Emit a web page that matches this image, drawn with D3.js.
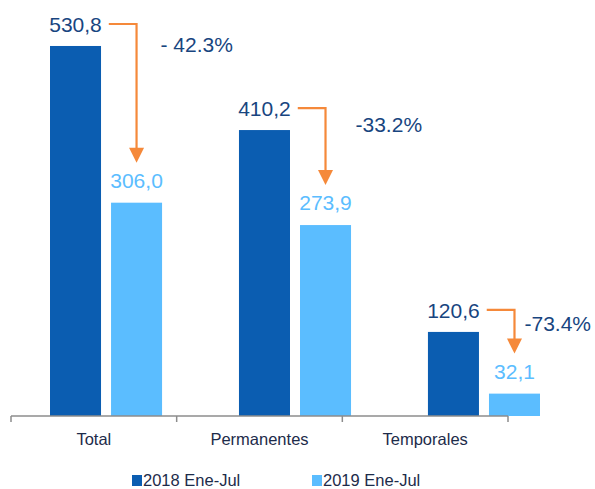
<!DOCTYPE html>
<html>
<head>
<meta charset="utf-8">
<script src="https://cdn.jsdelivr.net/npm/d3@7"></script>
<style>
  body { margin: 0; background: #fff; }
  svg { display: block; font-family: "Liberation Sans", Arial, sans-serif; }
</style>
</head>
<body>
<div id="chart"></div>
<script>
(function () {
    const categories = ["Total", "Permanentes", "Temporales"];
    const series = ["2018 Ene-Jul", "2019 Ene-Jul"];
    const values2018 = [530.8, 410.2, 120.6];
    const values2019 = [306.0, 273.9, 32.1];
    const changeLabels = ["- 42.3%", "-33.2%", "-73.4%"];
    // where each percentage sits, relative to its arrow corner
    const changeOffsets = [[24, 28], [30, 24], [10, 21]];

    const width = 595, height = 489;
    const baseline = 416;
    const dark = "#0b5db1", light = "#5bbdff", orange = "#f5893a";

    const svg = d3.select("#chart").append("svg")
        .attr("width", width)
        .attr("height", height);

    const y = d3.scaleLinear().domain([0, 600]).range([baseline, baseline - 600 * 0.6971]);

    // axis categories and the bar groups do not line up in the original
    const xAxisScale = d3.scaleBand().domain(categories).range([11, 508]);
    const xBars = d3.scaleBand().domain(categories).range([50, 540]).paddingInner(0.407);
    const xSub = d3.scaleBand().domain(series).range([0, xBars.bandwidth()]).paddingInner(0.164);

    const rows = categories.map((c, i) => ({
        cat: c, v: [values2018[i], values2019[i]], pct: changeLabels[i], off: changeOffsets[i]
    }));

    // bars
    rows.forEach(r => {
        series.forEach((s, j) => {
            svg.append("rect")
                .attr("x", xBars(r.cat) + xSub(s))
                .attr("y", y(r.v[j]))
                .attr("width", xSub.bandwidth())
                .attr("height", baseline - y(r.v[j]))
                .attr("fill", j === 0 ? dark : light);
        });
    });

    // axis
    const axis = svg.append("g").attr("transform", `translate(0,${baseline})`);
    axis.append("line").attr("x1", 11).attr("x2", 508).attr("stroke", "#8c8c8c").attr("stroke-width", 1.5);
    const tickXs = categories.map(c => xAxisScale(c)).concat([xAxisScale.range()[1]]);
    axis.selectAll("line.tick").data(tickXs).enter().append("line")
        .attr("class", "tick")
        .attr("x1", d => d).attr("x2", d => d)
        .attr("y1", 0).attr("y2", 6)
        .attr("stroke", "#8c8c8c").attr("stroke-width", 1.5);
    axis.selectAll("text").data(categories).enter().append("text")
        .attr("x", d => xAxisScale(d) + xAxisScale.bandwidth() / 2)
        .attr("y", 29)
        .attr("text-anchor", "middle")
        .style("font-size", "16.5px")
        .attr("fill", "#1d2b4a")
        .text(d => d);

    const fmt = v => v.toFixed(1).replace(".", ",");

    rows.forEach(r => {
        const xd = xBars(r.cat) + xSub(series[0]) + xSub.bandwidth() / 2;
        const xl = xBars(r.cat) + xSub(series[1]) + xSub.bandwidth() / 2;
        const yd = y(r.v[0]) - 14;
        const yl = y(r.v[1]) - 15;

        const darkLabel = svg.append("text")
            .attr("x", xd).attr("y", yd)
            .attr("text-anchor", "middle")
            .style("font-size", "21px")
            .attr("fill", "#18457f")
            .text(fmt(r.v[0]));

        svg.append("text")
            .attr("x", xl).attr("y", yl)
            .attr("text-anchor", "middle")
            .style("font-size", "21px")
            .attr("fill", light)
            .text(fmt(r.v[1]));

        // elbow arrow from the 2018 label down to the 2019 label
        const labelRight = xd + darkLabel.node().getComputedTextLength() / 2;
        const yTop = yd - 8;
        const tip = yl - 25;
        svg.append("path")
            .attr("d", `M${labelRight + 7},${yTop} H${xl} V${tip - 14}`)
            .attr("fill", "none")
            .attr("stroke", orange)
            .attr("stroke-width", 2.2);
        svg.append("path")
            .attr("d", `M${xl - 7.5},${tip - 15} L${xl + 7.5},${tip - 15} L${xl},${tip} Z`)
            .attr("fill", orange);

        svg.append("text")
            .attr("x", xl + r.off[0]).attr("y", yTop + r.off[1])
            .style("font-size", "21px")
            .attr("fill", "#18457f")
            .text(r.pct);
    });

    // legend
    const legendX = [132, 312];
    series.forEach((s, j) => {
        svg.append("rect")
            .attr("x", legendX[j]).attr("y", 475)
            .attr("width", 10).attr("height", 11)
            .attr("fill", j === 0 ? dark : light);
        svg.append("text")
            .attr("x", legendX[j] + 11).attr("y", 486)
            .style("font-size", "16.5px")
            .attr("fill", "#1d2b4a")
            .text(s);
    });
})();
</script>
</body>
</html>
